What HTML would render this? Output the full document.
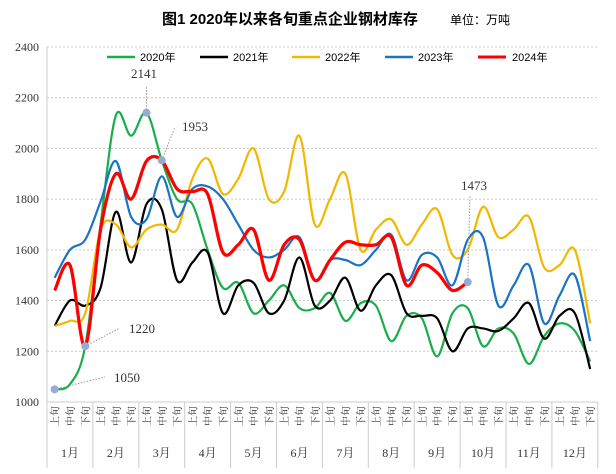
<!DOCTYPE html>
<html><head><meta charset="utf-8"><style>
html,body{margin:0;padding:0;background:#fff}
svg{display:block;font-family:"Liberation Serif","Noto Serif CJK SC","Noto Sans CJK SC",serif}
</style></head><body>
<svg id="c" width="616" height="474" viewBox="0 0 616 474" xmlns="http://www.w3.org/2000/svg">
<text x="290" y="24" font-size="15" font-weight="bold" text-anchor="middle" font-family="Liberation Sans,Noto Sans CJK SC,sans-serif">图1  2020年以来各旬重点企业钢材库存</text>
<text x="450" y="24" font-size="12" font-family="Liberation Sans,Noto Sans CJK SC,sans-serif">单位：万吨</text>
<g id="grid"></g>
<g id="series"></g>
<g id="ann" font-size="13" fill="#333"></g>
<g font-size="11" font-family="Liberation Sans,Noto Sans CJK SC,sans-serif">
<line x1="107" y1="57" x2="135" y2="57" stroke="#1aad4b" stroke-width="2.5"/><text x="140" y="61">2020年</text>
<line x1="200" y1="57" x2="228" y2="57" stroke="#000" stroke-width="2.5"/><text x="233" y="61">2021年</text>
<line x1="292" y1="57" x2="320" y2="57" stroke="#f2b800" stroke-width="2.5"/><text x="325" y="61">2022年</text>
<line x1="385" y1="57" x2="413" y2="57" stroke="#1a73c4" stroke-width="2.5"/><text x="418" y="61">2023年</text>
<line x1="478" y1="57" x2="506" y2="57" stroke="#f00" stroke-width="3"/><text x="512" y="61">2024年</text>
</g>
</svg>
<script>
const NS="http://www.w3.org/2000/svg";
function el(p,t,a,txt){const e=document.createElementNS(NS,t);for(const k in a)e.setAttribute(k,a[k]);if(txt!=null)e.textContent=txt;p.appendChild(e);return e;}
const Y=v=>402-(v-1000)*0.2536;
const X0=47,W=15.3,X=i=>X0+W/2+W*i;
const g=document.getElementById('grid');
for(let v=1000;v<=2400;v+=200){
 if(v>1000)el(g,'line',{x1:X0,x2:598,y1:Y(v),y2:Y(v),stroke:'#ccc','stroke-dasharray':'2,2'});
 el(g,'text',{x:39,y:Y(v)+4,'font-size':12,'text-anchor':'end',fill:'#333'},v);
}
el(g,'line',{x1:X0,x2:X0,y1:Y(2400),y2:402,stroke:'#ccc'});
el(g,'line',{x1:X0,x2:598,y1:402,y2:402,stroke:'#ccc'});
const xs=['上旬','中旬','下旬'];
for(let i=0;i<36;i++){
 el(g,'text',{transform:`translate(${X(i)+4},406) rotate(-90)`,'font-size':10,'text-anchor':'end',fill:'#333'},xs[i%3]);
}
for(let m=0;m<=12;m++){el(g,'line',{x1:X0+m*3*W,x2:X0+m*3*W,y1:402,y2:468,stroke:'#ccc'});}
for(let m=0;m<12;m++)el(g,'text',{x:X0+(m*3+1.5)*W,y:457,'font-size':12,'text-anchor':'middle',fill:'#333'},(m+1)+'月');
const data=[
['#1aad4b',2.2,[1050,1070,1220,1700,2130,2050,2141,1953,1800,1780,1600,1450,1470,1350,1400,1460,1370,1370,1430,1320,1390,1380,1240,1340,1330,1180,1350,1370,1220,1290,1270,1150,1260,1310,1280,1160]],
['#000',2.2,[1300,1400,1380,1450,1750,1550,1780,1760,1480,1550,1590,1350,1460,1470,1350,1400,1570,1380,1400,1490,1360,1460,1500,1350,1340,1330,1200,1290,1290,1280,1330,1390,1250,1340,1350,1130]],
['#f2b800',2.2,[1300,1320,1350,1680,1700,1610,1680,1700,1680,1880,1960,1820,1880,2000,1800,1830,2050,1700,1800,1900,1600,1680,1720,1620,1700,1760,1580,1600,1770,1650,1680,1730,1530,1540,1600,1310]],
['#1a73c4',2.2,[1490,1600,1640,1790,1950,1730,1720,1890,1730,1840,1850,1800,1700,1600,1570,1600,1650,1480,1560,1560,1540,1600,1660,1480,1580,1570,1460,1640,1650,1380,1460,1540,1310,1420,1500,1240]],
['#f00',3.2,[1440,1540,1220,1680,1900,1800,1950,1953,1840,1830,1820,1590,1620,1680,1480,1620,1640,1480,1560,1630,1620,1620,1650,1460,1540,1510,1440,1473]]
];
const s=document.getElementById('series');
for(const [c,w,d] of data){
 const p=d.map((v,i)=>[X(i),Y(v)]);
 let path=`M${p[0][0]},${p[0][1]}`;
 for(let i=0;i<p.length-1;i++){
  const p0=p[Math.max(i-1,0)],p1=p[i],p2=p[i+1],p3=p[Math.min(i+2,p.length-1)];
  const c1=[p1[0]+(p2[0]-p0[0])/6,p1[1]+(p2[1]-p0[1])/6],c2=[p2[0]-(p3[0]-p1[0])/6,p2[1]-(p3[1]-p1[1])/6];
  path+=` C${c1[0]},${c1[1]} ${c2[0]},${c2[1]} ${p2[0]},${p2[1]}`;
 }
 el(s,'path',{d:path,fill:'none',stroke:c,'stroke-width':w});
}
const a=document.getElementById('ann');
const anns=[[6,2141,X(6),87,131,78],[7,1953,175,127,182,131],[2,1220,120,328,129,333],[0,1050,105,377,114,382],[27,1473,470,195,461,190]];
for(const [i,v,lx,ly,tx,ty] of anns){
 el(a,'line',{x1:X(i),y1:Y(v),x2:lx,y2:ly,stroke:'#999','stroke-dasharray':'1.5,1.5'});
 el(a,'circle',{cx:X(i),cy:Y(v),r:4,fill:'#98a9d4'});
 el(a,'text',{x:tx,y:ty},v);
}
</script>
</body></html>
